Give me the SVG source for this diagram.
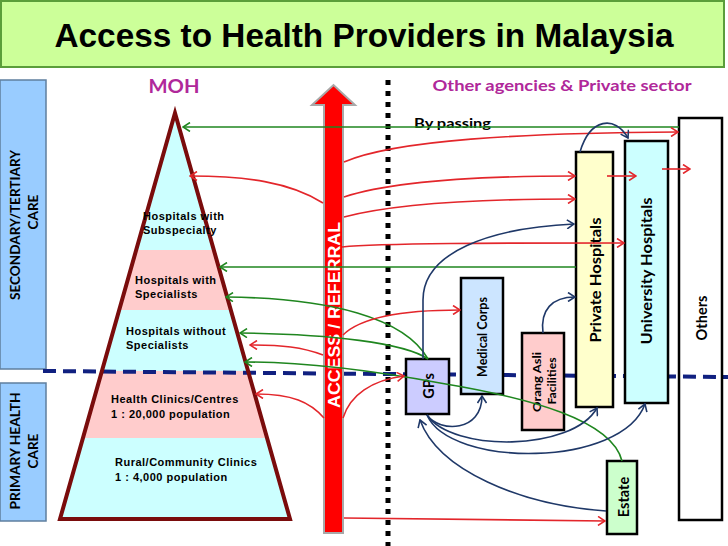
<svg xmlns="http://www.w3.org/2000/svg" width="728" height="546" viewBox="0 0 728 546">
<style>
.title{font-family:"Liberation Sans",Arial,sans-serif;font-weight:bold;font-size:34px;fill:#000}
.mag{font-family:Lato,"Liberation Sans",sans-serif;font-weight:bold;fill:#b0289a}
.cal{font-family:Lato,"Liberation Sans",sans-serif;font-weight:bold;fill:#000}
.pyr{font-family:"Liberation Sans",Arial,sans-serif;font-weight:bold;font-size:11px;letter-spacing:0.5px;fill:#000}
.box{stroke:#000;stroke-width:2.5}
.red{fill:none;stroke:#e3262b;stroke-width:1.6;marker-end:url(#mr)}
.grn{fill:none;stroke:#1f861f;stroke-width:1.6;marker-end:url(#mg)}
.nav{fill:none;stroke:#1f3868;stroke-width:1.6;marker-end:url(#mn)}
</style>
<defs>
<marker id="mr" viewBox="0 0 10 10" refX="9" refY="5" markerWidth="10" markerHeight="10" markerUnits="userSpaceOnUse" orient="auto"><path d="M2,0.5 L9,5 L2,9.5" fill="none" stroke="#e3262b" stroke-width="1.6"/></marker>
<marker id="mg" viewBox="0 0 10 10" refX="9" refY="5" markerWidth="10" markerHeight="10" markerUnits="userSpaceOnUse" orient="auto"><path d="M2,0.5 L9,5 L2,9.5" fill="none" stroke="#1f861f" stroke-width="1.6"/></marker>
<marker id="mn" viewBox="0 0 10 10" refX="9" refY="5" markerWidth="10" markerHeight="10" markerUnits="userSpaceOnUse" orient="auto"><path d="M2,0.5 L9,5 L2,9.5" fill="none" stroke="#1f3868" stroke-width="1.6"/></marker>
<clipPath id="tri"><polygon points="175,113 60,519 290,519"/></clipPath>
</defs>
<rect width="728" height="546" fill="#fff"/>

<g id="title">
<rect x="1" y="1" width="723" height="66" fill="#ccff99" stroke="#5a9e3a" stroke-width="2"/>
<text class="title" x="364" y="47" text-anchor="middle" textLength="619" lengthAdjust="spacingAndGlyphs">Access to Health Providers in Malaysia</text>
</g>

<g id="headers">
<text class="mag" x="174" y="93" text-anchor="middle" font-size="19" textLength="51" lengthAdjust="spacingAndGlyphs">MOH</text>
<text class="mag" x="562" y="91" text-anchor="middle" font-size="16" textLength="259" lengthAdjust="spacingAndGlyphs">Other agencies &amp; Private sector</text>
</g>

<g id="secondary-care">
<rect x="0" y="80" width="46" height="289" fill="#99ccff" stroke="#5f7f9f" stroke-width="1.5"/>
<text class="cal" font-size="13.5" transform="translate(15,225) rotate(-90)" text-anchor="middle" dominant-baseline="central" textLength="150" lengthAdjust="spacingAndGlyphs">SECONDARY/TERTIARY</text>
<text class="cal" font-size="13.5" transform="translate(33,212) rotate(-90)" text-anchor="middle" dominant-baseline="central">CARE</text>
</g>

<g id="primary-care">
<rect x="0" y="383" width="46" height="138" fill="#99ccff" stroke="#5f7f9f" stroke-width="1.5"/>
<text class="cal" font-size="13.5" transform="translate(15,451) rotate(-90)" text-anchor="middle" dominant-baseline="central" textLength="117" lengthAdjust="spacingAndGlyphs">PRIMARY HEALTH</text>
<text class="cal" font-size="13.5" transform="translate(33,451) rotate(-90)" text-anchor="middle" dominant-baseline="central">CARE</text>
</g>

<g id="pyramid">
<g clip-path="url(#tri)">
<rect x="50" y="110" width="250" height="140" fill="#ccffff"/>
<rect x="50" y="250" width="250" height="60" fill="#ffcccc"/>
<rect x="50" y="310" width="250" height="61" fill="#ccffff"/>
<rect x="50" y="371" width="250" height="67" fill="#ffcccc"/>
<rect x="50" y="438" width="250" height="85" fill="#ccffff"/>
</g>
</g>

<line id="divider" x1="43" y1="371" x2="728" y2="377" stroke="#102080" stroke-width="4" stroke-dasharray="13 7"/>

<g id="pyramid-outline">
<polygon points="175,113 60,519 290,519" fill="none" stroke="#7a0c0c" stroke-width="4"/>
<text class="pyr" x="143" y="220">Hospitals with</text>
<text class="pyr" x="143" y="234">Subspecialty</text>
<text class="pyr" x="135" y="284">Hospitals with</text>
<text class="pyr" x="135" y="298">Specialists</text>
<text class="pyr" x="126" y="335">Hospitals without</text>
<text class="pyr" x="126" y="349">Specialists</text>
<text class="pyr" x="111" y="403">Health Clinics/Centres</text>
<text class="pyr" x="111" y="418">1 : 20,000 population</text>
<text class="pyr" x="115" y="466">Rural/Community Clinics</text>
<text class="pyr" x="115" y="481">1 : 4,000 population</text>
</g>

<g id="access-referral">
<polygon points="324,533 324,105 312,105 333.5,85 355,105 343,105 343,533" fill="#ff0000" stroke="#a8a8a8" stroke-width="2"/>
<text transform="translate(334,315) rotate(-90)" text-anchor="middle" dominant-baseline="central" font-family="Liberation Sans,Arial,sans-serif" font-weight="bold" font-size="16" fill="#fff" textLength="186" lengthAdjust="spacingAndGlyphs">ACCESS / REFERRAL</text>
</g>

<line id="sector-divider" x1="388" y1="80" x2="388" y2="546" stroke="#000" stroke-width="5" stroke-dasharray="5 6"/>

<text id="bypassing" class="cal" x="414" y="128" font-size="14" textLength="77" lengthAdjust="spacingAndGlyphs">By passing</text>

<g id="others">
<rect class="box" x="679" y="118" width="43" height="402" fill="none"/>
<text class="cal" font-size="14.5" transform="translate(701,318) rotate(-90)" text-anchor="middle" dominant-baseline="central">Others</text>
</g>
<g id="university-hospitals">
<rect class="box" x="625" y="141" width="43" height="262" fill="#ccffff"/>
<text class="cal" font-size="14.5" transform="translate(646,271) rotate(-90)" text-anchor="middle" dominant-baseline="central" textLength="147" lengthAdjust="spacingAndGlyphs">University Hospitals</text>
</g>
<g id="private-hospitals">
<rect class="box" x="576" y="152" width="37" height="255" fill="#ffffcc"/>
<text class="cal" font-size="14.5" transform="translate(595,280) rotate(-90)" text-anchor="middle" dominant-baseline="central" textLength="125" lengthAdjust="spacingAndGlyphs">Private Hospitals</text>
</g>
<g id="medical-corps">
<rect class="box" x="461" y="278" width="42" height="116" fill="#cce5ff"/>
<text class="cal" font-size="12.5" transform="translate(482,337) rotate(-90)" text-anchor="middle" dominant-baseline="central" textLength="80" lengthAdjust="spacingAndGlyphs">Medical Corps</text>
</g>
<g id="orang-asli">
<rect class="box" x="522" y="333" width="42" height="97" fill="#ffcccc"/>
<text class="cal" font-size="11.5" transform="translate(536,382) rotate(-90)" text-anchor="middle" dominant-baseline="central" textLength="60" lengthAdjust="spacingAndGlyphs">Orang Asli</text>
<text class="cal" font-size="11.5" transform="translate(551,381) rotate(-90)" text-anchor="middle" dominant-baseline="central" textLength="47" lengthAdjust="spacingAndGlyphs">Facilities</text>
</g>
<g id="gps">
<rect class="box" x="406" y="359" width="43" height="55" fill="#ccccff"/>
<text class="cal" font-size="14.5" transform="translate(428,386) rotate(-90)" text-anchor="middle" dominant-baseline="central">GPs</text>
</g>
<g id="estate">
<rect class="box" x="607" y="461" width="30" height="73" fill="#ccffcc"/>
<text class="cal" font-size="14.5" transform="translate(623,497) rotate(-90)" text-anchor="middle" dominant-baseline="central">Estate</text>
</g>

<g id="connectors">
<path class="grn" d="M679,127 L183,127"/>
<path class="grn" d="M576,267 L220,267"/>
<path class="grn" d="M428,359 C405,318 330,298 226,297"/>
<path class="grn" d="M428,359 C405,343 330,334 240,333"/>
<path class="grn" d="M622,461 C612,420 530,398 440,383 C380,372 310,362 245,362"/>
<path class="red" d="M323,203 C290,182 245,176 190,176"/>
<path class="red" d="M323,355 C302,347 282,345 250,345"/>
<path class="red" d="M324,418 C310,402 292,394 256,394"/>
<path class="red" d="M344,162 C395,140 520,133 678,132"/>
<path class="red" d="M344,197 C390,182 470,176 575,176"/>
<path class="red" d="M344,217 C390,205 470,199 575,199"/>
<path class="red" d="M342,247 C380,243 500,243 624,243"/>
<path class="red" d="M607,176 L636,176"/>
<path class="red" d="M662,169 L690,169"/>
<path class="red" d="M343,335 C360,318 400,310 460,310"/>
<path class="red" d="M343,418 C350,395 372,380 404,376"/>
<path class="red" d="M344,518 L605,521"/>
<path class="nav" d="M580,152 C590,118 615,115 628,138"/>
<path class="nav" d="M423,359 L423,300 C423,252 490,228 574,224"/>
<path class="nav" d="M543,333 C540,310 552,297 575,297"/>
<path class="nav" d="M427,415 C440,433 482,432 482,396"/>
<path class="nav" d="M427,415 C452,452 572,452 597,408"/>
<path class="nav" d="M427,415 C450,468 622,468 645,404"/>
<path class="nav" d="M606,511 C520,505 438,470 420,420"/>
</g>
</svg>
